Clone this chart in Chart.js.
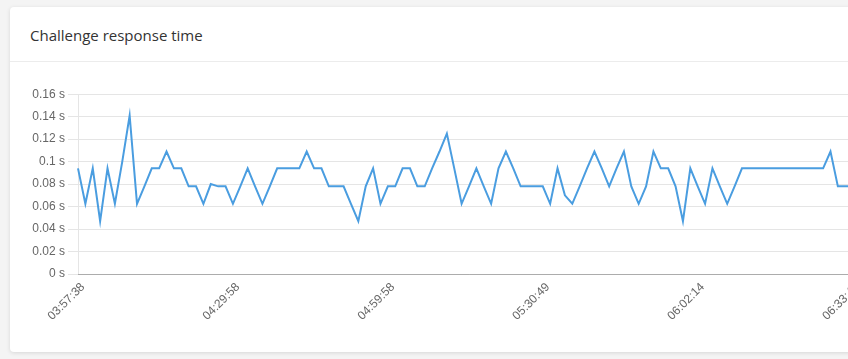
<!DOCTYPE html>
<html>
<head>
<meta charset="utf-8">
<script src="https://cdn.jsdelivr.net/npm/chart.js@4/dist/chart.umd.min.js"></script>
<style>
  html, body { margin: 0; padding: 0; width: 848px; height: 359px; overflow: hidden; background: #f4f4f4; }
  .card { position: absolute; left: 10px; top: 7px; width: 900px; height: 345px; background: #fff;
    border-radius: 4px; box-shadow: 0 1px 4px rgba(0,0,0,0.12); }
  .card-header { height: 55px; box-sizing: border-box; border-bottom: 1px solid #ececec; padding: 2px 0 0 20px;
    display: flex; align-items: center; font-family: "Open Sans", sans-serif; font-size: 15px; color: #333; }
  .chart-box { position: absolute; left: 20px; top: 84px; width: 850px; height: 244px; }
</style>
</head>
<body>
<div class="card">
  <div class="card-header">Challenge response time</div>
</div>
<div class="chart-box"><canvas id="myChart"></canvas></div>
<script>
// response time in seconds, one sample every ~1.5 minutes
const responseTimes = [
  0.094, 0.0625, 0.094, 0.047, 0.094, 0.0625, 0.1, 0.141, 0.0625, 0.078,
  0.094, 0.094, 0.109, 0.094, 0.094, 0.078, 0.078, 0.0625, 0.08, 0.078,
  0.078, 0.0625, 0.078, 0.094, 0.078, 0.0625, 0.078, 0.094, 0.094, 0.094,
  0.094, 0.109, 0.094, 0.094, 0.078, 0.078, 0.078, 0.0625, 0.047, 0.078,
  0.094, 0.0625, 0.078, 0.078, 0.094, 0.094, 0.078, 0.078, 0.094, 0.109,
  0.125, 0.094, 0.0625, 0.078, 0.094, 0.078, 0.0625, 0.094, 0.109, 0.094,
  0.078, 0.078, 0.078, 0.078, 0.0625, 0.094, 0.07, 0.0625, 0.078, 0.094,
  0.109, 0.094, 0.078, 0.094, 0.109, 0.078, 0.0625, 0.078, 0.109, 0.094,
  0.094, 0.078, 0.047, 0.094, 0.078, 0.0625, 0.094, 0.078, 0.0625, 0.078,
  0.094, 0.094, 0.094, 0.094, 0.094, 0.094, 0.094, 0.094, 0.094, 0.094,
  0.094, 0.094, 0.109, 0.078, 0.078, 0.078, 0.078
];

// only every 21st timestamp is shown on the axis
const tickLabels = ['03:57:38', '04:29:58', '04:59:58', '05:30:49', '06:02:14', '06:33:40'];
const tickEvery = 21;

const categories = responseTimes.map((v, i) => i % tickEvery === 0 ? (tickLabels[i / tickEvery] || '') : '');

Chart.defaults.font.family = "'Helvetica Neue', Helvetica, Arial, 'Liberation Sans', sans-serif";
Chart.defaults.font.size = 12;
Chart.defaults.color = '#666';

const data = {
  labels: categories,
  datasets: [{
    label: 'Challenge response time',
    data: responseTimes,
    borderColor: '#4a9de0',
    backgroundColor: '#4a9de0',
    borderWidth: 2,
    pointRadius: 0,
    tension: 0,
    fill: false
  }]
};

const config = {
  type: 'line',
  data,
  options: {
    responsive: true,
    maintainAspectRatio: false,
    animation: false,
    layout: { padding: { top: 0, right: 10 } },
    plugins: { legend: { display: false }, tooltip: { enabled: false } },
    scales: {
      x: {
        grid: { display: false, drawTicks: false },
        border: { color: 'rgba(0,0,0,0.25)' },
        ticks: {
          autoSkip: false,
          maxRotation: 45,
          minRotation: 45,
          padding: 6,
          labelOffset: 5,
          callback: function (value, index) {
            return index % tickEvery === 0 ? this.getLabelForValue(value) : null;
          }
        },
        afterFit: (scale) => { scale.height = 54; }
      },
      y: {
        min: 0,
        max: 0.16,
        grid: { color: 'rgba(0,0,0,0.1)', tickLength: 10 },
        border: { color: 'rgba(0,0,0,0.1)' },
        ticks: {
          stepSize: 0.02,
          padding: 3,
          callback: (v) => (Math.round(v * 100) / 100) + ' s'
        },
        afterFit: (scale) => { scale.width = 58; }
      }
    }
  }
};

const myChart = new Chart(document.getElementById('myChart').getContext('2d'), config);
</script>
</body>
</html>
